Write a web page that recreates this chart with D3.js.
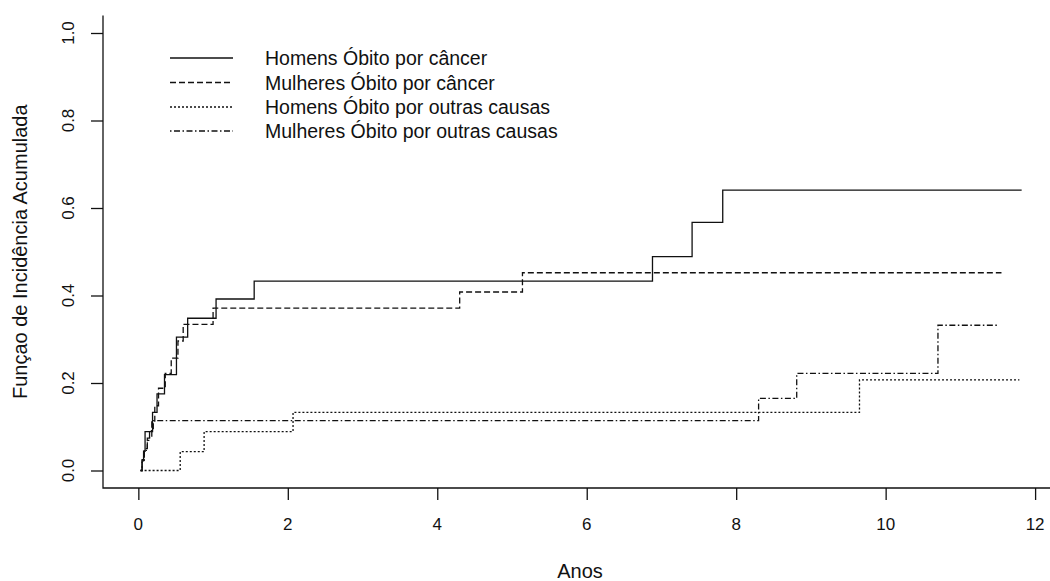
<!DOCTYPE html>
<html>
<head>
<meta charset="utf-8">
<script src="https://cdn.jsdelivr.net/npm/d3@7"></script>
<style>
  html, body { margin: 0; padding: 0; background: #fff; }
  svg text { font-family: "Liberation Sans", Arial, sans-serif; fill: #111; }
</style>
</head>
<body>
<svg id="chart" width="1050" height="581"></svg>
<script>
// Cumulative incidence step curves (time in years, cumulative incidence)
const homensCancerTime  = [0.03, 0.05, 0.07, 0.09, 0.19, 0.25, 0.35, 0.51, 0.66, 1.04, 1.55, 6.88, 7.41, 7.82, 11.82];
const homensCancerValue = [0.000, 0.022, 0.044, 0.089, 0.133, 0.175, 0.219, 0.305, 0.348, 0.392, 0.433, 0.489, 0.567, 0.641, 0.641];

const mulheresCancerTime  = [0.03, 0.05, 0.08, 0.12, 0.18, 0.22, 0.27, 0.36, 0.44, 0.53, 0.60, 1.00, 4.30, 5.14, 11.55];
const mulheresCancerValue = [0.000, 0.025, 0.050, 0.074, 0.111, 0.148, 0.188, 0.222, 0.257, 0.296, 0.334, 0.371, 0.408, 0.452, 0.452];

const homensOutrasTime  = [0.03, 0.56, 0.88, 2.07, 9.65, 11.79];
const homensOutrasValue = [0.000, 0.043, 0.089, 0.133, 0.207, 0.207];

const mulheresOutrasTime  = [0.03, 0.05, 0.08, 0.12, 0.15, 0.20, 8.30, 8.81, 10.70, 11.52];
const mulheresOutrasValue = [0.000, 0.023, 0.046, 0.069, 0.091, 0.114, 0.165, 0.222, 0.332, 0.332];

const legendLabels = [
  "Homens Óbito por câncer",
  "Mulheres Óbito por câncer",
  "Homens Óbito por outras causas",
  "Mulheres Óbito por outras causas"
];
const xTicks = [0, 2, 4, 6, 8, 10, 12];
const yTicks = [0.0, 0.2, 0.4, 0.6, 0.8, 1.0];

const seriesList = [
  { time: homensCancerTime,   value: homensCancerValue,   dash: null },
  { time: mulheresCancerTime, value: mulheresCancerValue, dash: "6,3" },
  { time: homensOutrasTime,   value: homensOutrasValue,   dash: "2,2" },
  { time: mulheresOutrasTime, value: mulheresOutrasValue, dash: "1.5,2.5,6,2.5" }
];

const svg = d3.select("#chart");
const plot = { left: 103, right: 1057, top: 15.5, bottom: 488 };
const tickFs = 17;
const labelFs = 20;

const x = d3.scaleLinear().domain([-0.473, 12.293]).range([plot.left, plot.right]);
const y = d3.scaleLinear().domain([-0.04, 1.04]).range([plot.bottom, plot.top]);

// L-shaped frame
svg.append("path")
  .attr("d", `M${plot.left},${plot.top}V${plot.bottom}H${plot.right}`)
  .attr("fill", "none").attr("stroke", "#111").attr("stroke-width", 1.3);

// x axis ticks
const xAxis = svg.append("g").attr("transform", `translate(0,${plot.bottom})`)
  .call(d3.axisBottom(x).tickValues(xTicks).tickSize(12).tickFormat(""));
xAxis.select(".domain").remove();
xAxis.selectAll("line").attr("stroke", "#111").attr("stroke-width", 1.3);
xTicks.forEach(t => {
  svg.append("text").attr("x", x(t)).attr("y", 530)
    .attr("text-anchor", "middle").attr("font-size", tickFs).text(d3.format("d")(t));
});

// y axis ticks
const yAxis = svg.append("g").attr("transform", `translate(${plot.left},0)`)
  .call(d3.axisLeft(y).tickValues(yTicks).tickSize(12).tickFormat(""));
yAxis.select(".domain").remove();
yAxis.selectAll("line").attr("stroke", "#111").attr("stroke-width", 1.3);
yTicks.forEach(v => {
  svg.append("text").attr("transform", `translate(74,${y(v)}) rotate(-90)`)
    .attr("text-anchor", "middle").attr("font-size", tickFs).text(d3.format(".1f")(v));
});

// axis titles
svg.append("text").attr("x", (plot.left + plot.right) / 2).attr("y", 578)
  .attr("text-anchor", "middle").attr("font-size", labelFs).text("Anos");
svg.append("text").attr("transform", `translate(27,${(plot.top + plot.bottom) / 2}) rotate(-90)`)
  .attr("text-anchor", "middle").attr("font-size", labelFs).text("Funçao de Incidência Acumulada");

// step curves
const line = d3.line().curve(d3.curveStepAfter).x(d => x(d[0])).y(d => y(d[1]));
seriesList.forEach(s => {
  const pts = s.time.map((t, i) => [t, s.value[i]]);
  svg.append("path").datum(pts).attr("d", line)
    .attr("fill", "none").attr("stroke", "#111").attr("stroke-width", 1.3)
    .attr("stroke-dasharray", s.dash);
});

// legend
const legendRowY = [58, 82.5, 107, 131];
legendLabels.forEach((lab, i) => {
  svg.append("line").attr("x1", 170).attr("x2", 233)
    .attr("y1", legendRowY[i]).attr("y2", legendRowY[i])
    .attr("stroke", "#111").attr("stroke-width", 1.3)
    .attr("stroke-dasharray", seriesList[i].dash);
  svg.append("text").attr("x", 265).attr("y", legendRowY[i] + 7)
    .attr("font-size", 19.5).text(lab);
});
</script>
</body>
</html>
